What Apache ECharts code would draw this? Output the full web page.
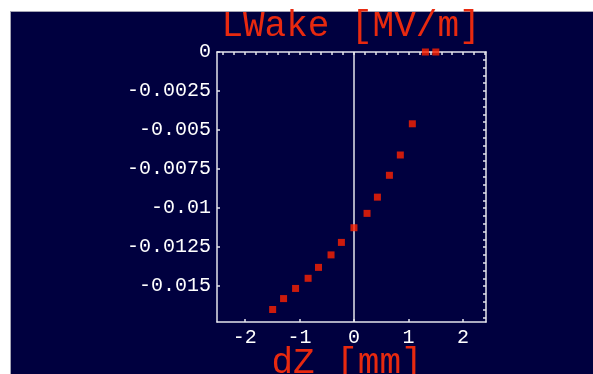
<!DOCTYPE html>
<html>
<head>
<meta charset="utf-8">
<script src="https://cdn.jsdelivr.net/npm/echarts@6/dist/echarts.min.js"></script>
<style>
  html, body { margin: 0; padding: 0; background: #ffffff; }
  #wrap { position: relative; width: 593px; height: 374px; overflow: hidden; }
  #bg { position: absolute; left: 10px; top: 11px; width: 583px; height: 363px;
        background: #00003f; border-top: 1px solid #a4a4b4; border-left: 1px solid #a4a4b4; box-sizing: border-box; }
  #chart { position: absolute; left: 0; top: 0; width: 593px; height: 374px; }
</style>
</head>
<body>
<div id="wrap"><div id="bg"></div><div id="chart"></div></div>
<script>
// ---- data ----
const dZ = [-1.49, -1.29, -1.07, -0.84, -0.65, -0.42, -0.23, 0, 0.24, 0.43, 0.65, 0.85, 1.07, 1.31, 1.50];
const lwake = [-0.0165, -0.0158, -0.01515, -0.0145, -0.0138, -0.0130, -0.0122, -0.01126, -0.01034, -0.0093, -0.0079, -0.0066, -0.0046, 0, 0];
const xTickValues = [-2, -1, 0, 1, 2];
const xTickLabels = ['-2', '-1', '0', '1', '2'];
const yTickValues = [0, -0.0025, -0.005, -0.0075, -0.01, -0.0125, -0.015];
const yTickLabels = ['0', '-0.0025', '-0.005', '-0.0075', '-0.01', '-0.0125', '-0.015'];
const xMinorTicks = [-2.4, -2.2, -2.0, -1.8, -1.6, -1.4, -1.2, -1.0, -0.8, -0.6, -0.4, -0.2, 0, 0.2, 0.4, 0.6, 0.8, 1.0, 1.2, 1.4, 1.6, 1.8, 2.0, 2.2, 2.4];
const yMinorTicks = [-0.017, -0.0165, -0.016, -0.0155, -0.015, -0.0145, -0.014, -0.0135, -0.013, -0.0125, -0.012, -0.0115, -0.011, -0.0105, -0.01, -0.0095, -0.009, -0.0085, -0.008, -0.0075, -0.007, -0.0065, -0.006, -0.0055, -0.005, -0.0045, -0.004, -0.0035, -0.003, -0.0025, -0.002, -0.0015, -0.001, -0.0005];
const titleText = 'LWake [MV/m]';
const xName = 'dZ [mm]';

const X_MIN = -2.51, X_MAX = 2.42, Y_MIN = -0.0173, Y_MAX = 0;
const FRAME = '#e4e4ec';
const RED_TEXT = '#e8290f';
const MONO = 'Liberation Mono';

const chart = echarts.init(document.getElementById('chart'), null, { renderer: 'canvas' });

function lookup(vals, labels) {
  return function (v) {
    for (let i = 0; i < vals.length; i++) if (Math.abs(vals[i] - v) < 1e-9) return labels[i];
    return '';
  };
}

chart.setOption({
  backgroundColor: 'transparent',
  animation: false,
  title: {
    text: titleText,
    left: 346,
    top: 3,
    textAlign: 'center',
    textStyle: { color: RED_TEXT, fontFamily: MONO, fontSize: 36, fontWeight: 'normal' }
  },
  grid: { left: 217, right: 107, top: 52, bottom: 52, containLabel: false, outerBoundsMode: 'none' },
  xAxis: [
    {
      type: 'value', position: 'bottom', min: X_MIN, max: X_MAX,
      name: xName, nameLocation: 'middle', nameGap: 23, nameMoveOverlap: false,
      nameTextStyle: { color: RED_TEXT, fontFamily: MONO, fontSize: 36, padding: [0, 9, 0, 0] },
      axisLine: { show: true, onZero: false, lineStyle: { color: FRAME, width: 1.5 } },
      axisTick: { show: true, inside: true, length: 3, customValues: xTickValues, lineStyle: { color: FRAME, width: 1.5 } },
      axisLabel: { show: true, margin: 6, customValues: xTickValues, formatter: lookup(xTickValues, xTickLabels),
                   color: '#ffffff', fontFamily: MONO, fontSize: 20 },
      splitLine: { show: false }
    },
    {
      type: 'value', position: 'top', min: X_MIN, max: X_MAX,
      axisLine: { show: true, onZero: false, lineStyle: { color: FRAME, width: 1.5 } },
      axisTick: { show: true, inside: true, length: 3, customValues: xMinorTicks, lineStyle: { color: FRAME, width: 1.5 } },
      axisLabel: { show: false },
      splitLine: { show: false }
    }
  ],
  yAxis: [
    {
      type: 'value', position: 'left', min: Y_MIN, max: Y_MAX,
      axisLine: { show: true, onZero: false, lineStyle: { color: FRAME, width: 1.5 } },
      axisTick: { show: true, inside: true, length: 3, customValues: yTickValues, lineStyle: { color: FRAME, width: 1.5 } },
      axisLabel: { show: true, margin: 6, customValues: yTickValues, formatter: lookup(yTickValues, yTickLabels),
                   color: '#ffffff', fontFamily: MONO, fontSize: 20 },
      splitLine: { show: false }
    },
    {
      type: 'value', position: 'right', min: Y_MIN, max: Y_MAX,
      axisLine: { show: true, onZero: false, lineStyle: { color: FRAME, width: 1.5 } },
      axisTick: { show: true, inside: true, length: 3, customValues: yMinorTicks, lineStyle: { color: FRAME, width: 1.5 } },
      axisLabel: { show: false },
      splitLine: { show: false }
    }
  ],
  series: [
    {
      type: 'scatter',
      xAxisIndex: 0, yAxisIndex: 0,
      data: dZ.map((x, i) => [x, lwake[i]]),
      symbol: 'rect', symbolSize: 7,
      clip: false,
      itemStyle: { color: '#ff2200' },
      z: 5,
      markLine: {
        silent: true, symbol: 'none', animation: false,
        label: { show: false },
        lineStyle: { color: FRAME, width: 1.5, type: 'solid' },
        data: [{ xAxis: 0 }]
      }
    }
  ]
});
</script>
</body>
</html>
